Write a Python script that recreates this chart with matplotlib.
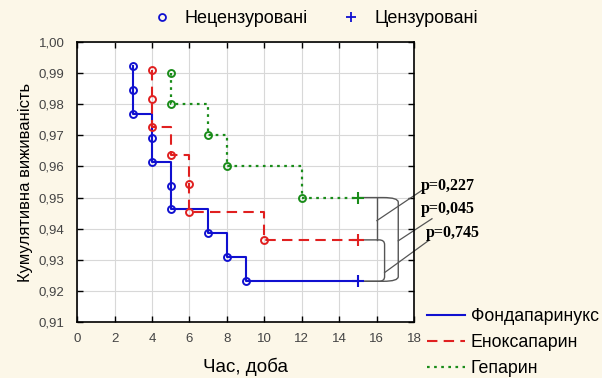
import matplotlib
matplotlib.use("Agg")
import matplotlib.pyplot as plt
from matplotlib.lines import Line2D
from matplotlib.path import Path
from matplotlib.patches import PathPatch

plt.rcParams['font.family'] = ['Liberation Sans', 'DejaVu Sans']

# Дані: моменти подій і кумулятивна виживаність
fonda_t = [3, 3, 3, 4, 4, 5, 5, 7, 8, 9]
fonda_s = [0.9923, 0.9846, 0.9769, 0.9692, 0.9615, 0.9538, 0.9462, 0.9385, 0.9308, 0.9231]
enox_t = [4, 4, 4, 5, 6, 6, 10]
enox_s = [0.9909, 0.9818, 0.9727, 0.9636, 0.9545, 0.9455, 0.9364]
hep_t = [5, 5, 7, 8, 12]
hep_s = [0.99, 0.98, 0.97, 0.96, 0.95]
censor_t = 15
p_labels = ["p=0,227", "p=0,045", "p=0,745"]
series_names = ["Фондапаринукс", "Еноксапарин", "Гепарин"]

BG = '#fcf7e8'
fig = plt.figure(figsize=(6.02, 3.78), dpi=100, facecolor=BG)
ax = fig.add_axes([0.128, 0.148, 0.560, 0.741])
ax.set_facecolor('white')

styles = [
    dict(color='#1010d0', ls='-', lw=1.5),
    dict(color='#e02020', ls=(0, (5, 3)), lw=1.5),
    dict(color='#1a8c1a', ls=(0, (1.2, 2)), lw=1.6),
]
handles = []
for (t, s), st in zip([(fonda_t, fonda_s), (enox_t, enox_s), (hep_t, hep_s)], styles):
    xs = t + [censor_t]
    ys = s + [s[-1]]
    ax.step(xs, ys, where='post', color=st['color'], ls=st['ls'], lw=st['lw'], zorder=3)
    ax.plot(t, s, 'o', mfc='none', mec=st['color'], mew=1.4, ms=5, zorder=4)
    ax.plot([censor_t], [s[-1]], '+', color=st['color'], mew=1.5, ms=8, zorder=4)
    handles.append(Line2D([], [], color=st['color'], ls=st['ls'], lw=st['lw']))

ax.set_xlim(0, 18)
ax.set_ylim(0.91, 1.0)
ax.set_xticks(range(0, 19, 2))
ax.set_yticks([0.91 + 0.01 * i for i in range(10)])
ax.set_yticklabels([f"{0.91 + 0.01 * i:.2f}".replace('.', ',') for i in range(10)])
ax.tick_params(direction='in', top=True, right=True, labelsize=9.5, labelcolor='#444444',
               length=4, width=1)
ax.tick_params(axis='x', pad=8)
ax.tick_params(axis='y', pad=9)
ax.grid(True, color='#d8d8d8', lw=0.8)
ax.set_axisbelow(True)
for sp in ax.spines.values():
    sp.set_linewidth(1.2)
    sp.set_color('black')

ax.set_xlabel("Час, доба", fontsize=13.5, labelpad=9)
ax.set_ylabel("Кумулятивна виживаність", fontsize=12, labelpad=4)

# дужки порівнянь
gray = '#555555'
yg, yr, yb = hep_s[-1], enox_s[-1], fonda_s[-1]
r = 0.0015
def bracket(y1, y2, xv, rr=0.25):
    verts = [(censor_t, y1), (xv - rr, y1), (xv, y1), (xv, y1 - r),
             (xv, y2 + r), (xv, y2), (xv - rr, y2), (censor_t, y2)]
    codes = [Path.MOVETO, Path.LINETO, Path.CURVE3, Path.CURVE3,
             Path.LINETO, Path.CURVE3, Path.CURVE3, Path.LINETO]
    ax.add_patch(PathPatch(Path(verts, codes), fill=False, ec=gray, lw=1.0, zorder=2, clip_on=False))

bracket(yg, yb, 17.15, 0.8)
ax.plot([16.0, 16.0], [yg, yr], color=gray, lw=1.0, zorder=2)
bracket(yr, yb, 16.42, 0.3)

leaders = [((16.01, 0.9426), (18.41, 0.9523)),
           ((17.15, 0.9361), (18.95, 0.9432)),
           ((16.42, 0.9259), (18.75, 0.9361))]
for (a, b) in leaders:
    ax.plot([a[0], b[0]], [a[1], b[1]], color=gray, lw=0.9, clip_on=False, zorder=2)

label_pos = [(18.38, 0.9536), (18.38, 0.9462), (18.64, 0.9385)]
for txt, (x, y) in zip(p_labels, label_pos):
    ax.text(x, y, txt, fontsize=11.5, fontweight='bold', family='Liberation Serif',
            va='center', ha='left', clip_on=False)

# легенда зверху
top_h = [Line2D([], [], marker='o', ls='none', mfc='none', mec='#1010d0', mew=1.3, ms=5),
         Line2D([], [], marker='+', ls='none', color='#1010d0', mew=1.3, ms=7)]
fig.legend(top_h, ["Нецензуровані", "Цензуровані"], loc='center', ncol=2,
           bbox_to_anchor=(0.524, 0.95), frameon=False, fontsize=13,
           handlelength=1.0, columnspacing=1.9, handletextpad=0.75)

# легенда знизу
fig.legend(handles, series_names, loc='upper left', bbox_to_anchor=(0.710, 0.185),
           frameon=False, fontsize=12.8, handlelength=2.1, handletextpad=0.35,
           labelspacing=0.5, borderaxespad=0, borderpad=0)

fig.savefig("out.png", dpi=100, facecolor=BG)
